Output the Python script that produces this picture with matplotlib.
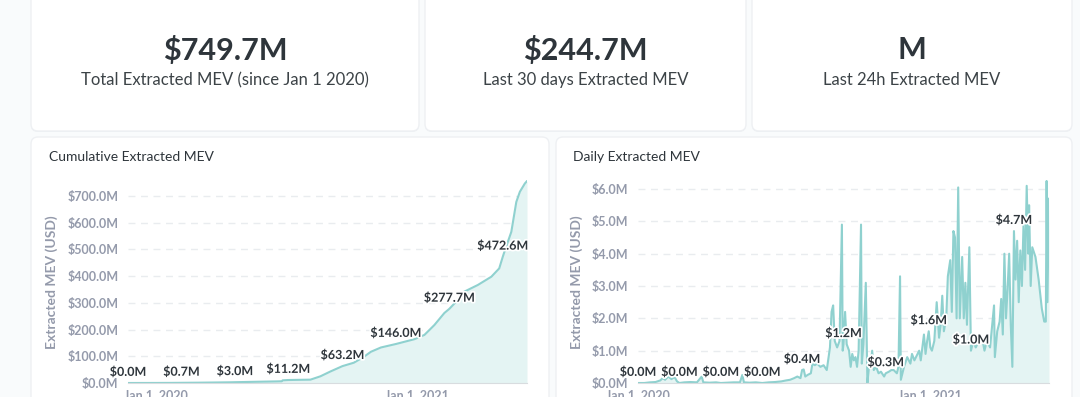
import numpy as np
import pandas as pd
import matplotlib
matplotlib.use("Agg")
import matplotlib.pyplot as plt
import matplotlib.dates as mdates
from matplotlib.patches import FancyBboxPatch
from matplotlib.ticker import FuncFormatter
import matplotlib.patheffects as pe

# ---------------------------------------------------------------------------
# DATA
# ---------------------------------------------------------------------------
BASE = pd.Timestamp("2020-01-01")

kpi_values = ["$749.7M", "$244.7M", "M"]
kpi_labels = ["Total Extracted MEV (since Jan 1 2020)",
              "Last 30 days Extracted MEV",
              "Last 24h Extracted MEV"]

# cumulative extracted MEV, millions USD, by day offset from Jan 1 2020
cum_days = [-39, -20, 0, 20, 36, 60, 80, 104, 111, 130, 150, 170, 177, 178,
            186, 200, 217, 231, 245, 262, 278, 292, 302, 316, 337, 350, 363,
            377, 391, 405, 412, 420, 433, 452, 471, 482, 487, 490, 499, 506,
            511, 518, 521]
cum_vals = [0.0, 0.1, 0.2, 0.4, 0.7, 1.2, 1.8, 2.6, 3.0, 4.0, 5.0, 6.0, 6.5,
            10.0, 11.2, 11.8, 12.5, 25, 43, 63.2, 76, 98, 117, 133, 146.0, 155,
            164, 180, 217, 262, 277.7, 300, 342, 367, 398, 429, 472.6, 497,
            566, 678, 716, 747, 756]
cum_label_days = [-39, 36, 111, 186, 262, 337, 412, 487]

# daily extracted MEV, millions USD
daily_days = [0, 8, 15, 22, 28, 31, 34, 38, 42, 46, 49, 52, 58, 66, 74, 80, 82,
              90, 98, 104, 112, 120, 128, 131, 133, 140, 148, 156, 164, 172,
              180, 186, 191, 196, 200, 204, 206, 208, 210, 213, 217, 219, 222,
              225, 229, 233, 237, 241, 243, 245, 247, 250, 253, 256, 257, 258,
              260, 262, 265, 267, 269, 271, 273, 275, 277, 280, 281, 283, 286,
              288, 290, 292, 294, 296, 299, 302, 305, 309, 311, 315, 318, 321,
              325, 327, 329, 330, 334, 338, 342, 344, 347, 349, 353, 355, 357,
              359, 361, 363, 365, 367, 369, 372, 375, 378, 380, 382, 384, 387,
              389, 392, 394, 396, 398, 400, 402, 404, 407, 409, 411, 413, 416,
              418, 421, 424, 426, 428, 432, 435, 438, 442, 445, 447, 448, 451,
              454, 456, 458, 460, 462, 464, 466, 468, 470, 472, 474, 476, 478,
              480, 482, 484, 486, 488, 490, 491, 493, 495, 499, 503, 507, 510,
              512, 513, 514, 516]
daily_vals = [0.0, 0.0, 0.02, 0.03, 0.08, 0.15, 0.1, 0.2, 0.12, 0.18, 0.05,
              0.0, 0.02, 0.03, 0.02, 0.2, 0.02, 0.01, 0.02, 0.0, 0.01, 0.02,
              0.02, 0.25, 0.02, 0.01, 0.02, 0.0, 0.02, 0.03, 0.05, 0.08, 0.1,
              0.15, 0.2, 0.15, 0.4, 0.42, 0.2, 0.25, 0.3, 0.6, 0.55, 0.6, 0.5,
              0.55, 0.4, 1.1, 2.2, 2.4, 1.3, 1.1, 1.3, 4.9, 1.0, 1.2, 2.2, 1.2,
              1.0, 0.5, 0.9, 0.7, 0.8, 0.5, 1.0, 4.9, 0.6, 1.2, 3.1, 0.0, 0.5,
              0.6, 1.0, 0.4, 0.5, 0.3, 0.35, 0.2, 0.3, 0.35, 0.4, 0.4, 0.3, 0.5,
              3.3, 0.1, 0.5, 0.8, 0.6, 0.9, 0.7, 0.8, 1.0, 0.7, 1.1, 1.5, 0.9,
              1.3, 1.6, 1.1, 1.0, 1.3, 2.5, 1.4, 1.8, 2.7, 1.6, 2.0, 3.3, 3.8,
              2.2, 4.7, 4.5, 2.0, 6.05, 2.0, 3.9, 2.0, 3.1, 1.8, 4.2, 1.0, 1.3,
              1.1, 1.2, 1.3, 1.4, 1.0, 1.3, 1.1, 1.9, 2.4, 0.8, 1.6, 1.9, 2.6,
              1.5, 4.0, 2.0, 2.9, 4.0, 1.8, 0.5, 4.7, 3.2, 4.4, 2.5, 4.1, 3.0,
              4.9, 3.5, 6.1, 4.0, 5.5, 3.0, 4.2, 3.9, 3.2, 2.3, 1.9, 1.9, 6.25,
              2.5, 5.7]
daily_label_days = [0, 52, 104, 156, 206, 258, 311, 365, 418, 472]

cum_ticks = [0, 100, 200, 300, 400, 500, 600, 700]
daily_ticks = [0, 1, 2, 3, 4, 5, 6]
year_ticks = ["2020-01-01", "2021-01-01"]

# ---------------------------------------------------------------------------
# STYLE
# ---------------------------------------------------------------------------
plt.rcParams["font.family"] = ["Lato", "DejaVu Sans"]
W, H = 1080, 397
PAGE = "#f9fbfc"
DARK = "#2e353b"
GREY = "#949aab"
LINE = "#8fd1cf"
FILL = "#e4f4f3"
GRID = "#e9ecef"


def to_dates(days):
    return BASE + pd.to_timedelta(np.asarray(days), unit="D")


fig = plt.figure(figsize=(W / 100, H / 100), dpi=100, facecolor=PAGE)

# background layer in pixel coordinates
bg = fig.add_axes([0, 0, 1, 1], zorder=0)
bg.set_xlim(0, W)
bg.set_ylim(H, 0)
bg.axis("off")


def card(x0, y0, x1, y1):
    bg.add_patch(FancyBboxPatch((x0, y0 + 1), x1 - x0, y1 - y0,
                                boxstyle="round,pad=0,rounding_size=7",
                                fc="#edf0f3", ec="none"))
    bg.add_patch(FancyBboxPatch((x0, y0), x1 - x0, y1 - y0,
                                boxstyle="round,pad=0,rounding_size=7",
                                fc="white", ec="#eef0f3", lw=1))


# KPI cards
kpi_boxes = [(31, 419), (425, 746), (752, 1072)]
for (x0, x1), val, lab in zip(kpi_boxes, kpi_values, kpi_labels):
    card(x0, -12, x1, 131)
    cx = (x0 + x1) / 2
    bg.text(cx, 50, val, ha="center", va="center", fontsize=22,
            fontweight="bold", color=DARK)
    bg.text(cx, 80, lab, ha="center", va="center", fontsize=12, color="#3c4347")

# chart cards
card(31, 137, 549, 415)
card(556, 137, 1072, 415)
bg.text(49, 157, "Cumulative Extracted MEV", ha="left", va="center",
        fontsize=10, color=DARK)
bg.text(573, 157, "Daily Extracted MEV", ha="left", va="center",
        fontsize=10, color=DARK)
for x in (52, 577):
    bg.text(x, 282, "Extracted MEV (USD)", rotation=90, ha="center",
            va="center", fontsize=10, fontweight="bold", color=GREY)


def px_axes(x0, x1, y0, y1):
    return fig.add_axes([x0 / W, (H - y1) / H, (x1 - x0) / W, (y1 - y0) / H],
                        zorder=2, facecolor="none")


def style_axes(ax, ticks, ymax, fmt):
    ax.set_ylim(0, ymax)
    ax.set_yticks(ticks)
    ax.yaxis.set_major_formatter(FuncFormatter(fmt))
    ax.set_xticks(pd.to_datetime(year_ticks))
    ax.xaxis.set_major_formatter(mdates.DateFormatter("%b %-d, %Y"))
    ax.tick_params(axis="both", length=0, labelsize=9, labelcolor=GREY)
    ax.tick_params(axis="y", pad=6.8)
    ax.tick_params(axis="x", pad=4.5)
    for lab in ax.get_xticklabels() + ax.get_yticklabels():
        lab.set_fontweight("bold")
    for s in ("top", "right", "left"):
        ax.spines[s].set_visible(False)
    ax.spines["bottom"].set_color("#d8dcdf")
    ax.grid(axis="y", color=GRID, linestyle=(0, (5, 4)), linewidth=1)
    ax.set_axisbelow(True)


def draw_series(ax, days, vals, label_days, fmt_lbl):
    d = to_dates(days)
    v = np.asarray(vals, dtype=float)
    ax.fill_between(d, 0, v, color=FILL, lw=0, zorder=1)
    ax.plot(d, v, color=LINE, lw=1.5, zorder=2, solid_joinstyle="round")
    ax.set_xlim(d[0], d[-1])
    lookup = dict(zip(days, vals))
    for day in label_days:
        val = lookup[day]
        ax.annotate(fmt_lbl(val), (to_dates([day])[0], val), xytext=(0, 8),
                    textcoords="offset points", ha="center", va="center",
                    fontsize=9, fontweight="bold", color=DARK, zorder=5,
                    annotation_clip=False,
                    path_effects=[pe.withStroke(linewidth=2.5, foreground="white")])


money = lambda v, _=None: f"${v:.1f}M"

ax1 = px_axes(128, 527, 180, 383)
style_axes(ax1, cum_ticks, 760, money)
draw_series(ax1, cum_days, cum_vals, cum_label_days, money)

ax2 = px_axes(638, 1049, 180, 383)
style_axes(ax2, daily_ticks, 6.28, money)
draw_series(ax2, daily_days, daily_vals, daily_label_days, money)

fig.savefig("out.png", dpi=100, facecolor=PAGE)
